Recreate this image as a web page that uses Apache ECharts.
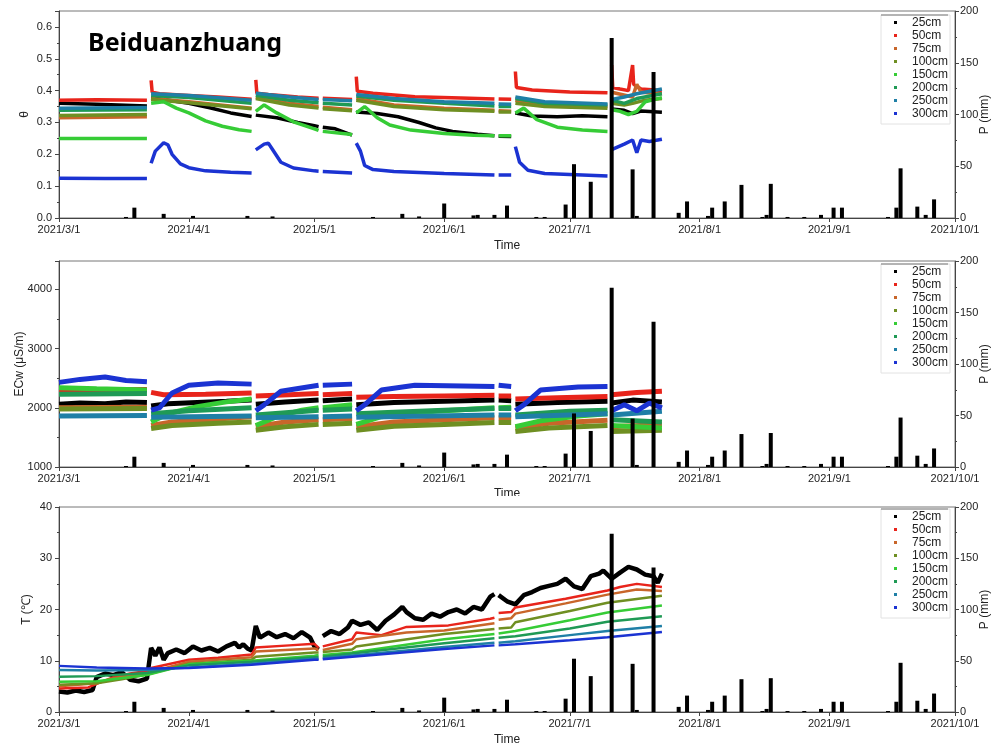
<!DOCTYPE html>
<html>
<head>
<meta charset="utf-8">
<script src="https://cdn.jsdelivr.net/npm/echarts@6/dist/echarts.min.js"></script>
<style>
  html, body { margin: 0; padding: 0; background: #fff; }
  #chart { width: 1001px; height: 753px; }
</style>
</head>
<body>
<div id="chart"></div>
<script>
// Sensor depths and their colours
const depths = ['25cm', '50cm', '75cm', '100cm', '150cm', '200cm', '250cm', '300cm'];
const depthColors = ['#000000', '#e8241b', '#c8662a', '#6f8f22', '#36cc36', '#1f9a55', '#1f7fa6', '#1b33d2'];

// Month ticks on the time axis
const monthTicks = ['3/1', '4/1', '5/1', '6/1', '7/1', '8/1', '9/1', '10/1'];

// Daily precipitation, P (mm)
const rain = [
  ['3/17', 1], ['3/19', 10], ['3/26', 4], ['4/2', 2], ['4/15', 2], ['4/21', 1.5],
  ['5/15', 1], ['5/22', 4], ['5/26', 1.5], ['6/1', 14], ['6/8', 2.5], ['6/9', 3],
  ['6/13', 3], ['6/16', 12], ['6/23', 1], ['6/25', 1], ['6/30', 13], ['7/2', 52],
  ['7/6', 35], ['7/11', 174], ['7/16', 47], ['7/17', 2], ['7/21', 141],
  ['7/27', 5], ['7/29', 16], ['8/3', 2], ['8/4', 10], ['8/7', 16], ['8/11', 32],
  ['8/16', 1], ['8/17', 3], ['8/18', 33], ['8/22', 1], ['8/26', 1], ['8/30', 3],
  ['9/2', 10], ['9/4', 10], ['9/15', 1], ['9/17', 10], ['9/18', 48], ['9/22', 11],
  ['9/24', 3], ['9/26', 18]
];

// Soil water content θ by depth (null = logger gap)
const theta25 = [['3/1',0.360],['3/10',0.357],['3/22',0.352],['3/22 18',null],['3/23',0.377],['3/26',0.372],['4/1',0.360],['4/6',0.346],['4/11',0.330],['4/16',0.319],['4/16 18',null],['4/17',0.323],['4/22',0.315],['4/27',0.300],['5/1',0.290],['5/2',0.287],['5/2 12',null],['5/3',0.285],['5/6',0.280],['5/10',0.260],['5/10 18',null],['5/11',0.333],['5/16',0.328],['5/21',0.318],['5/26',0.300],['5/30',0.283],['6/3',0.272],['6/9',0.263],['6/13',0.258],['6/13 12',null],['6/14',0.257],['6/17',0.256],['6/17 18',null],['6/18',0.330],['6/22',0.320],['6/28',0.318],['7/4',0.321],['7/10',0.318],['7/10 18',null],['7/11',0.342],['7/14',0.338],['7/16',0.328],['7/18',0.336],['7/23',0.332]];
const theta50 = [['3/1',0.370],['3/10',0.371],['3/22',0.370],['3/22 18',null],['3/23',0.432],['3/23 6',0.395],['3/25',0.390],['4/1',0.385],['4/8',0.380],['4/16',0.373],['4/16 18',null],['4/17',0.434],['4/17 6',0.392],['4/20',0.388],['4/27',0.380],['5/2',0.376],['5/2 12',null],['5/3',0.376],['5/10',0.372],['5/10 18',null],['5/11',0.444],['5/11 6',0.398],['5/15',0.392],['5/25',0.381],['6/5',0.377],['6/13',0.374],['6/13 12',null],['6/14',0.374],['6/17',0.373],['6/17 18',null],['6/18',0.460],['6/18 6',0.410],['6/22',0.402],['7/1',0.396],['7/10',0.393],['7/10 18',null],['7/11',0.480],['7/11 6',0.410],['7/13',0.405],['7/15',0.400],['7/16',0.480],['7/16 6',0.420],['7/18',0.405],['7/23',0.400]];
const theta75 = [['3/1',0.315],['3/22',0.318],['3/22 18',null],['3/23',0.375],['4/1',0.365],['4/16',0.345],['4/16 18',null],['4/17',0.380],['4/25',0.360],['5/2',0.350],['5/2 12',null],['5/3',0.348],['5/10',0.340],['5/10 18',null],['5/11',0.375],['5/20',0.355],['6/1',0.345],['6/13',0.338],['6/13 12',null],['6/14',0.337],['6/17',0.335],['6/17 18',null],['6/18',0.370],['6/25',0.355],['7/10',0.350],['7/10 18',null],['7/11',0.395],['7/16',0.380],['7/17',0.420],['7/18',0.395],['7/23',0.390]];
const theta100 = [['3/1',0.322],['3/22',0.325],['3/22 18',null],['3/23',0.372],['4/1',0.362],['4/16',0.343],['4/16 18',null],['4/17',0.375],['4/25',0.355],['5/2',0.345],['5/2 12',null],['5/3',0.343],['5/10',0.337],['5/10 18',null],['5/11',0.370],['5/20',0.350],['6/1',0.340],['6/13',0.335],['6/13 12',null],['6/14',0.333],['6/17',0.333],['6/17 18',null],['6/18',0.360],['6/25',0.350],['7/10',0.345],['7/10 18',null],['7/11',0.360],['7/14',0.355],['7/16',0.360],['7/19',0.370],['7/23',0.375]];
const theta150 = [['3/1',0.250],['3/22',0.250],['3/22 18',null],['3/23',0.360],['3/26',0.365],['3/29',0.345],['4/1',0.330],['4/5',0.305],['4/9',0.288],['4/13',0.277],['4/16',0.272],['4/16 18',null],['4/17',0.335],['4/19',0.355],['4/22',0.330],['4/26',0.302],['5/1',0.280],['5/2',0.275],['5/2 12',null],['5/3',0.272],['5/10',0.262],['5/10 18',null],['5/11',0.330],['5/13',0.350],['5/16',0.315],['5/19',0.292],['5/24',0.276],['6/1',0.265],['6/8',0.260],['6/13',0.258],['6/13 12',null],['6/14',0.258],['6/17',0.258],['6/17 18',null],['6/18',0.330],['6/20',0.345],['6/23',0.310],['6/28',0.285],['7/4',0.276],['7/10',0.272],['7/10 18',null],['7/11',0.340],['7/13',0.335],['7/15',0.325],['7/17',0.335],['7/19',0.365],['7/23',0.378]];
const theta200 = [['3/1',0.338],['3/22',0.340],['3/22 18',null],['3/23',0.385],['4/1',0.378],['4/16',0.360],['4/16 18',null],['4/17',0.385],['4/25',0.370],['5/2',0.362],['5/2 12',null],['5/3',0.360],['5/10',0.355],['5/10 18',null],['5/11',0.383],['5/20',0.370],['6/1',0.360],['6/13',0.352],['6/13 12',null],['6/14',0.350],['6/17',0.350],['6/17 18',null],['6/18',0.375],['6/25',0.360],['7/10',0.355],['7/10 18',null],['7/11',0.370],['7/14',0.360],['7/17',0.375],['7/23',0.390]];
const theta250 = [['3/1',0.345],['3/22',0.347],['3/22 18',null],['3/23',0.390],['4/1',0.385],['4/8',0.378],['4/16',0.370],['4/16 18',null],['4/17',0.392],['4/25',0.380],['5/2',0.372],['5/2 12',null],['5/3',0.372],['5/10',0.368],['5/10 18',null],['5/11',0.388],['5/20',0.375],['6/1',0.365],['6/13',0.360],['6/13 12',null],['6/14',0.358],['6/17',0.357],['6/17 18',null],['6/18',0.380],['6/25',0.365],['7/10',0.358],['7/10 18',null],['7/11',0.372],['7/14',0.380],['7/17',0.390],['7/23',0.405]];
const theta300 = [['3/1',0.125],['3/12',0.124],['3/22',0.124],['3/22 18',null],['3/23',0.172],['3/24',0.210],['3/26',0.236],['3/27',0.230],['3/28',0.200],['3/30',0.170],['4/1',0.158],['4/5',0.148],['4/11',0.144],['4/16',0.141],['4/16 18',null],['4/17',0.214],['4/19',0.232],['4/20',0.235],['4/21',0.215],['4/23',0.175],['4/26',0.157],['5/1',0.148],['5/2',0.147],['5/2 12',null],['5/3',0.146],['5/10',0.141],['5/10 18',null],['5/11',0.235],['5/12',0.210],['5/13',0.165],['5/15',0.152],['5/20',0.146],['6/1',0.140],['6/13',0.135],['6/13 12',null],['6/14',0.135],['6/17',0.135],['6/17 18',null],['6/18',0.224],['6/19',0.175],['6/21',0.150],['6/25',0.140],['7/10',0.132],['7/10 18',null],['7/11',0.215],['7/14',0.232],['7/16',0.245],['7/17',0.205],['7/18',0.245],['7/20',0.240],['7/23',0.247]];

// Pore-water electrical conductivity ECw (µS/m)
const ec25 = [['3/1',2060],['3/6',2080],['3/12',2070],['3/17',2100],['3/22',2090],['3/22 18',null],['3/23',2030],['3/27',2070],['4/3',2090],['4/10',2110],['4/16',2130],['4/16 18',null],['4/17',2060],['4/24',2100],['5/2',2130],['5/2 12',null],['5/3',2120],['5/10',2150],['5/10 18',null],['5/11',2050],['5/20',2090],['6/1',2110],['6/13',2130],['6/13 12',null],['6/14',2130],['6/17',2120],['6/17 18',null],['6/18',2060],['6/28',2090],['7/10',2110],['7/10 18',null],['7/11',2080],['7/16',2130],['7/23',2100]];
const ec50 = [['3/1',2290],['3/10',2300],['3/22',2310],['3/22 18',null],['3/23',2260],['3/26',2220],['4/5',2230],['4/16',2250],['4/16 18',null],['4/17',2200],['4/25',2220],['5/2',2240],['5/2 12',null],['5/3',2220],['5/10',2240],['5/10 18',null],['5/11',2180],['5/20',2190],['6/1',2200],['6/13',2210],['6/13 12',null],['6/14',2200],['6/17',2200],['6/17 18',null],['6/18',2150],['6/28',2170],['7/10',2190],['7/10 18',null],['7/11',2220],['7/17',2260],['7/23',2280]];
const ec75 = [['3/1',2000],['3/22',2010],['3/22 18',null],['3/23',1700],['3/28',1760],['4/5',1800],['4/16',1850],['4/16 18',null],['4/17',1680],['4/24',1760],['5/2',1800],['5/2 12',null],['5/3',1800],['5/10',1820],['5/10 18',null],['5/11',1680],['5/20',1760],['6/1',1800],['6/13',1830],['6/13 12',null],['6/14',1830],['6/17',1830],['6/17 18',null],['6/18',1660],['6/26',1740],['7/10',1790],['7/10 18',null],['7/11',1680],['7/23',1720]];
const ec100 = [['3/1',1980],['3/22',1990],['3/22 18',null],['3/23',1650],['3/28',1700],['4/8',1740],['4/16',1760],['4/16 18',null],['4/17',1620],['4/24',1680],['5/2',1720],['5/2 12',null],['5/3',1720],['5/10',1740],['5/10 18',null],['5/11',1620],['5/20',1690],['6/1',1720],['6/13',1750],['6/13 12',null],['6/14',1750],['6/17',1750],['6/17 18',null],['6/18',1600],['6/26',1660],['7/10',1700],['7/10 18',null],['7/11',1600],['7/23',1620]];
const ec150 = [['3/1',2340],['3/10',2320],['3/22',2300],['3/22 18',null],['3/23',1760],['3/27',1900],['4/3',2020],['4/10',2100],['4/16',2150],['4/16 18',null],['4/17',1700],['4/22',1850],['4/28',1960],['5/2',2000],['5/2 12',null],['5/3',2000],['5/10',2050],['5/10 18',null],['5/11',1720],['5/17',1850],['5/27',1930],['6/13',2000],['6/13 12',null],['6/14',2000],['6/17',2010],['6/17 18',null],['6/18',1680],['6/24',1780],['7/3',1860],['7/10',1900],['7/10 18',null],['7/11',1700],['7/17',1680],['7/23',1660]];
const ec200 = [['3/1',2230],['3/22',2240],['3/22 18',null],['3/23',1900],['4/1',1950],['4/16',2000],['4/16 18',null],['4/17',1880],['5/2',1960],['5/2 12',null],['5/3',1960],['5/10',1980],['5/10 18',null],['5/11',1900],['6/1',1960],['6/13',1990],['6/13 12',null],['6/14',1990],['6/17',1990],['6/17 18',null],['6/18',1880],['7/1',1940],['7/10',1960],['7/10 18',null],['7/11',1800],['7/23',1760]];
const ec250 = [['3/1',1860],['3/22',1870],['3/22 18',null],['3/23',1840],['4/16',1860],['4/16 18',null],['4/17',1830],['5/2',1850],['5/2 12',null],['5/3',1850],['5/10',1860],['5/10 18',null],['5/11',1840],['6/13',1880],['6/13 12',null],['6/14',1880],['6/17',1880],['6/17 18',null],['6/18',1850],['7/10',1900],['7/10 18',null],['7/11',1880],['7/23',1940]];
const ec300 = [['3/1',2430],['3/6',2480],['3/12',2520],['3/17',2460],['3/22',2440],['3/22 18',null],['3/23',1960],['3/25',2000],['3/28',2250],['4/1',2380],['4/8',2420],['4/16',2400],['4/16 18',null],['4/17',1950],['4/19',2050],['4/23',2280],['5/2',2380],['5/2 12',null],['5/3',2380],['5/10',2400],['5/10 18',null],['5/11',1950],['5/13',2050],['5/17',2300],['5/25',2380],['6/13',2360],['6/13 12',null],['6/14',2380],['6/17',2360],['6/17 18',null],['6/18',1950],['6/20',2050],['6/24',2300],['7/3',2350],['7/10',2360],['7/10 18',null],['7/11',1950],['7/14',2050],['7/17',1950],['7/20',2080],['7/23',2000]];

// Soil temperature T (°C)
const temp25 = [['3/1',4.0],['3/3',3.8],['3/5',4.2],['3/7',3.9],['3/9',4.3],['3/10',6.8],['3/12',7.5],['3/14',7.2],['3/16',7.8],['3/17',7.0],['3/18',6.3],['3/20',6.0],['3/22',6.5],['3/23',12.5],['3/24',11.0],['3/25',12.6],['3/26',10.2],['3/27',11.5],['3/29',12.2],['3/31',11.5],['4/2',12.8],['4/4',12.0],['4/6',12.5],['4/8',11.8],['4/10',12.8],['4/12',13.5],['4/13',12.6],['4/14',13.2],['4/15',12.4],['4/16',12.0],['4/17',16.8],['4/18',14.5],['4/20',15.5],['4/22',14.6],['4/24',15.2],['4/26',14.4],['4/28',15.6],['4/30',14.5],['5/1',12.8],['5/2',12.2],['5/2 12',null],['5/3',14.8],['5/5',15.8],['5/7',15.2],['5/9',16.5],['5/10',17.8],['5/12',17.0],['5/14',17.5],['5/16',16.0],['5/18',17.8],['5/20',19.0],['5/22',20.5],['5/23',19.5],['5/25',18.3],['5/27',18.0],['5/29',19.2],['5/31',18.6],['6/2',19.5],['6/4',20.0],['6/6',19.2],['6/8',20.5],['6/10',20.0],['6/12',22.5],['6/13',23.0],['6/13 12',null],['6/14',22.8],['6/16',21.6],['6/18',21.0],['6/20',22.8],['6/22',23.4],['6/24',24.2],['6/26',24.6],['6/28',25.0],['6/30',26.0],['7/2',24.5],['7/4',24.0],['7/6',26.5],['7/8',27.0],['7/9',27.6],['7/11',26.0],['7/13',27.2],['7/15',28.3],['7/17',27.8],['7/19',26.8],['7/21',26.5],['7/22',25.2],['7/23',27.0]];
const temp50 = [['3/1',4.6],['3/8',4.8],['3/10',5.5],['3/14',6.8],['3/18',7.5],['3/22',8.0],['3/23',8.6],['4/1',10.2],['4/8',10.6],['4/16',11.2],['4/17',12.6],['4/25',13.0],['5/1',13.3],['5/2',12.5],['5/2 12',null],['5/3',12.8],['5/10',14.2],['5/11',15.5],['5/17',15.0],['5/23',16.6],['6/2',16.9],['6/12',18.2],['6/13',18.4],['6/13 12',null],['6/14',19.3],['6/17',19.5],['6/18',20.4],['6/30',22.1],['7/10',23.7],['7/13',24.4],['7/17',25.0],['7/23',24.4]];
const temp75 = [['3/1',5.0],['3/10',5.6],['3/14',6.6],['3/22',7.6],['4/1',9.8],['4/16',10.7],['4/17',11.8],['5/1',12.4],['5/2',12.1],['5/2 12',null],['5/3',12.1],['5/10',13.3],['5/11',14.2],['5/23',15.5],['6/1',15.9],['6/13',17.3],['6/13 12',null],['6/14',18.0],['6/17',18.3],['6/18',19.2],['6/30',21.2],['7/10',22.9],['7/17',23.9],['7/23',23.6]];
const temp100 = [['3/1',5.3],['3/10',5.6],['3/16',6.4],['3/22',7.3],['4/1',9.4],['4/16',10.2],['4/17',10.8],['5/1',11.6],['5/2',11.6],['5/2 12',null],['5/3',11.7],['5/10',12.2],['5/11',12.8],['6/1',15.2],['6/13',16.2],['6/13 12',null],['6/14',16.3],['6/17',16.5],['6/18',17.5],['7/1',19.7],['7/10',21.3],['7/23',22.7]];
const temp150 = [['3/1',5.9],['3/10',6.0],['3/22',7.2],['4/1',9.3],['4/16',10.0],['5/1',11.0],['5/2',11.1],['5/2 12',null],['5/3',11.1],['5/10',11.6],['6/1',14.2],['6/13',15.2],['6/13 12',null],['6/14',15.3],['6/18',15.8],['7/1',17.9],['7/10',19.4],['7/23',20.8]];
const temp200 = [['3/1',6.9],['3/10',7.0],['3/22',7.6],['4/1',9.1],['4/16',9.8],['5/1',10.7],['5/2',10.7],['5/2 12',null],['5/3',10.8],['6/1',13.4],['6/13',14.4],['6/13 12',null],['6/14',14.5],['6/18',14.8],['7/1',16.3],['7/10',17.6],['7/23',18.7]];
const temp250 = [['3/1',8.2],['3/10',8.1],['3/22',8.2],['4/1',8.7],['4/16',9.4],['5/1',10.4],['5/2',10.4],['5/2 12',null],['5/3',10.5],['6/1',12.7],['6/13',13.5],['6/13 12',null],['6/14',13.5],['6/18',13.8],['7/1',15.0],['7/10',15.8],['7/23',16.8]];
const temp300 = [['3/1',9.0],['3/10',8.7],['3/22',8.5],['4/1',8.6],['4/16',9.2],['5/1',10.2],['5/2',10.2],['5/2 12',null],['5/3',10.3],['6/1',12.3],['6/13',13.0],['6/13 12',null],['6/14',13.0],['6/18',13.2],['7/1',14.0],['7/10',14.6],['7/23',15.6]];

const thetaSeries = [theta25, theta50, theta75, theta100, theta150, theta200, theta250, theta300];
const ecSeries = [ec25, ec50, ec75, ec100, ec150, ec200, ec250, ec300];
const tempSeries = [temp25, temp50, temp75, temp100, temp150, temp200, temp250, temp300];

// 'M/D' or 'M/D H' within 2021 -> timestamp (UTC)
function ts(s) {
  const [md, h] = s.split(' ');
  const [m, d] = md.split('/').map(Number);
  return Date.UTC(2021, m - 1, d, h ? Number(h) : 0);
}
const toPoints = arr => arr.map(([s, v]) => [ts(s), v === null ? '-' : v]);

const xMin = ts('3/1'), xMax = ts('10/1');
const monthValues = monthTicks.map(ts);
const fmtDate = v => { const d = new Date(v); return d.getUTCFullYear() + '/' + (d.getUTCMonth() + 1) + '/' + d.getUTCDate(); };

const FONT = 'Liberation Sans, Arial, sans-serif';
const AXIS_COLOR = '#444';
const LABEL = { color: '#222', fontSize: 11, fontFamily: FONT };

// Panel geometry
const panels = [
  { top: 11, height: 207, legendTop: 15, left: { name: 'θ', min: 0, max: 0.65, interval: 0.1, gap: 28, showMax: false, fmt: v => v.toFixed(1) }, nameGapX: 22, lineWidth: 3.5, data: thetaSeries },
  { top: 261, height: 206, legendTop: 264, left: { name: 'ECw (μS/m)', min: 1000, max: 4480, interval: 1000, gap: 33, showMax: false, fmt: v => String(v) }, nameGapX: 21, lineWidth: 5, data: ecSeries },
  { top: 507, height: 205, legendTop: 509, left: { name: 'T (℃)', min: 0, max: 40, interval: 10, gap: 26, showMax: true, fmt: v => String(v) }, nameGapX: 22, lineWidth: 2.5, data: tempSeries }
];

const grid = [], xAxis = [], yAxis = [], series = [], legend = [];

panels.forEach((p, k) => {
  grid.push({ left: 59, width: 896, top: p.top, height: p.height, outerBoundsMode: 'none', containLabel: false, show: true, borderColor: '#777', borderWidth: 1, backgroundColor: 'transparent' });

  xAxis.push({
    type: 'value', gridIndex: k, min: xMin, max: xMax,
    name: 'Time', nameLocation: 'middle', nameGap: p.nameGapX,
    nameTextStyle: { color: '#222', fontSize: 12, fontFamily: FONT },
    axisLine: { lineStyle: { color: AXIS_COLOR } },
    axisTick: { show: true, length: 4, inside: false, customValues: monthValues, lineStyle: { color: AXIS_COLOR } },
    axisLabel: Object.assign({ margin: 6, customValues: monthValues, formatter: fmtDate, hideOverlap: false }, LABEL),
    splitLine: { show: false }
  });

  const L = p.left;
  yAxis.push({
    type: 'value', gridIndex: k, position: 'left', min: L.min, max: L.max, interval: L.interval,
    name: L.name, nameLocation: 'middle', nameGap: L.gap, nameMoveOverlap: false,
    nameTextStyle: { color: '#222', fontSize: 12, fontFamily: FONT },
    axisLine: { show: true, lineStyle: { color: AXIS_COLOR } },
    axisTick: { show: true, length: 4, lineStyle: { color: AXIS_COLOR } },
    minorTick: { show: true, splitNumber: 2, length: 2, lineStyle: { color: AXIS_COLOR } },
    axisLabel: Object.assign({ margin: 7, showMaxLabel: L.showMax, formatter: L.fmt }, LABEL),
    splitLine: { show: false }, minorSplitLine: { show: false }
  });
  yAxis.push({
    type: 'value', gridIndex: k, position: 'right', min: 0, max: 200, interval: 50,
    name: 'P (mm)', nameLocation: 'middle', nameGap: 24, nameMoveOverlap: false,
    nameTextStyle: { color: '#222', fontSize: 12, fontFamily: FONT },
    axisLine: { show: true, lineStyle: { color: AXIS_COLOR } },
    axisTick: { show: true, length: 4, lineStyle: { color: AXIS_COLOR } },
    minorTick: { show: true, splitNumber: 2, length: 2, lineStyle: { color: AXIS_COLOR } },
    axisLabel: Object.assign({ margin: 5 }, LABEL),
    splitLine: { show: false }, minorSplitLine: { show: false }
  });

  p.data.forEach((arr, i) => {
    series.push({
      name: depths[i], type: 'line', xAxisIndex: k, yAxisIndex: 2 * k,
      data: toPoints(arr), showSymbol: false, symbol: 'none', connectNulls: false,
      color: depthColors[i],
      lineStyle: { width: (k === 2 && i === 0) ? 4.5 : p.lineWidth, color: depthColors[i] },
      z: 2
    });
  });

  series.push({
    name: 'P', type: 'bar', xAxisIndex: k, yAxisIndex: 2 * k + 1,
    data: rain.map(([s, v]) => [ts(s), v]), barWidth: 4,
    itemStyle: { color: '#000' }, z: 4
  });

  legend.push({
    data: depths, orient: 'vertical', left: 881, top: p.legendTop,
    icon: 'rect', itemWidth: 3, itemHeight: 3, itemGap: 0,
    padding: [1, 2, 4, 13],
    backgroundColor: '#fff', borderColor: '#e2e2e2', borderWidth: 1,
    textStyle: { color: '#222', fontSize: 12, fontFamily: FONT, lineHeight: 13, padding: [0, 0, 0, 10] },
    selectedMode: false
  });
});

const graphic = [
  // station name
  { type: 'text', left: 88, top: 31, z: 10, style: { text: 'Beiduanzhuang', font: 'bold 25px "Noto Sans", "Open Sans", sans-serif', fill: '#000' } },
  // legend frame top rules
  { type: 'line', z: 10, shape: { x1: 881, y1: 15, x2: 948, y2: 15 }, style: { stroke: '#777', lineWidth: 1 } },
  { type: 'line', z: 10, shape: { x1: 881, y1: 264, x2: 948, y2: 264 }, style: { stroke: '#777', lineWidth: 1 } },
  { type: 'line', z: 10, shape: { x1: 881, y1: 509, x2: 948, y2: 509 }, style: { stroke: '#777', lineWidth: 1 } },
  // lower panel sheet overlapping the middle panel's axis title
  { type: 'rect', z: 100, silent: true, shape: { x: 420, y: 496, width: 180, height: 10 }, style: { fill: '#fff' } }
];

const chart = echarts.init(document.getElementById('chart'), null, { renderer: 'canvas' });
chart.setOption({
  animation: false,
  backgroundColor: '#fff',
  grid, xAxis, yAxis, series, legend, graphic
});
</script>
</body>
</html>
